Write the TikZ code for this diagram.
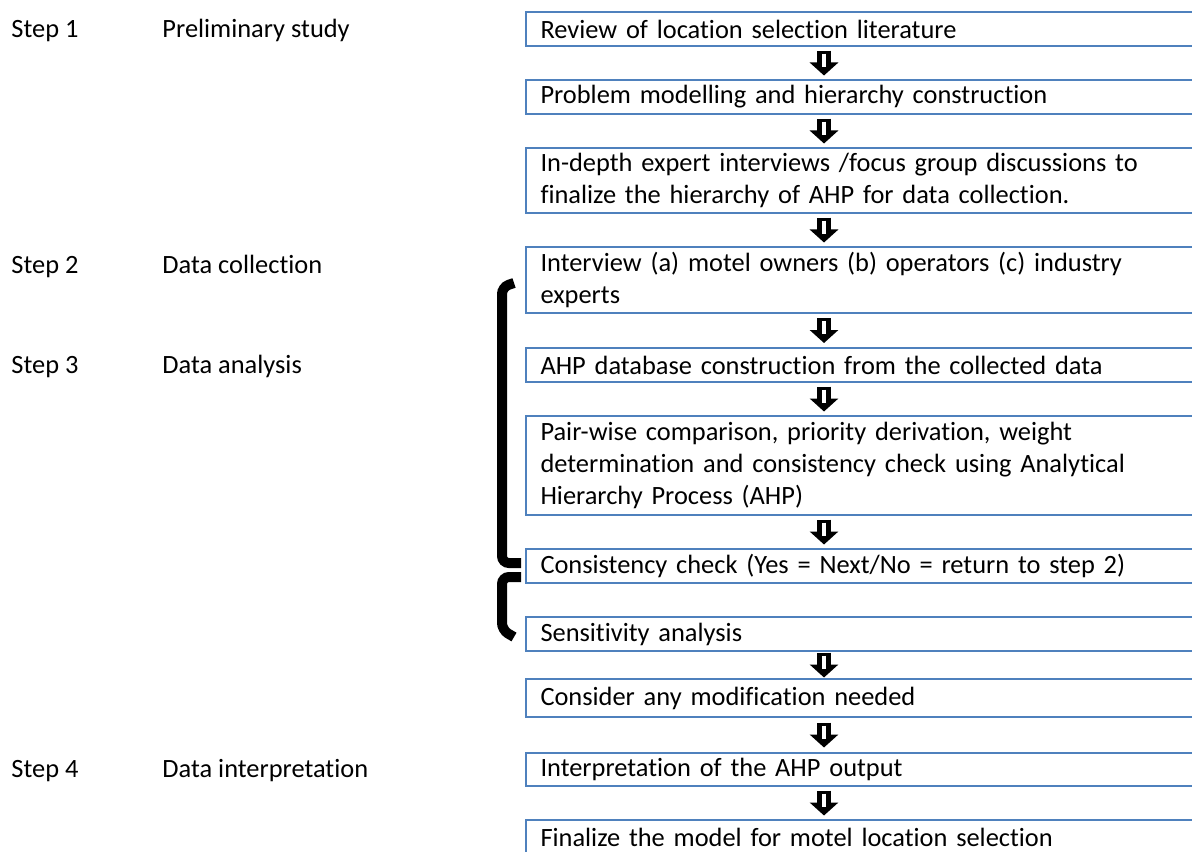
\documentclass[tikz,border=0pt]{standalone}
\usepackage{fontspec}
\setmainfont{Carlito}[RawFeature={-liga;-clig;-calt;-dlig}]
\usetikzlibrary{arrows.meta,calc}

\newdimen\pxl \pxl=0.4167pt
\definecolor{boxblue}{HTML}{4F81BD}

\tikzset{
  stepbox/.style={draw=boxblue, line width=2\pxl, anchor=west, align=left,
    text width=700\pxl, inner xsep=15\pxl, inner ysep=0pt,
    font=\fontsize{11}{13.2}\selectfont},
  steplabel/.style={anchor=base west, inner sep=0pt,
    font=\fontsize{11}{13.2}\selectfont},
  arrowbody/.style={draw=black, line width=14\pxl,
    -{Triangle[width=11.67pt,length=5.42pt]}},
  arrowslit/.style={draw=white, line width=3.5\pxl},
  bracket/.style={draw=black, line width=10\pxl, rounded corners=7\pxl}
}

\begin{document}
\begin{tikzpicture}[x=0.4167pt,y=-0.4167pt]
\clip (0,0) rectangle (1192,851);
%\draw[color=gray!20] (0,0) grid[step=50] (1192,851);

% left column
\node[steplabel] (step1) at (11,37) {Step 1};
\node[steplabel] (stage1) at (162,37) {Preliminary study};
\node[steplabel] (step2) at (11,273) {Step 2};
\node[steplabel] (stage2) at (162,273) {Data collection};
\node[steplabel] (step3) at (11,373) {Step 3};
\node[steplabel] (stage3) at (162,373) {Data analysis};
\node[steplabel] (step4) at (11,777) {Step 4};
\node[steplabel] (stage4) at (162,777) {Data interpretation};

% boxes
\node[stepbox, minimum height=34\pxl] (review) at (524.5,29) {Review of location selection literature};
\node[stepbox, minimum height=34\pxl] (model) at (524.5,97) {Problem modelling and hierarchy construction};
\node[stepbox, minimum height=65\pxl] (expert) at (524.5,180.5) {In-depth expert interviews /focus group discussions to\\finalize the hierarchy of AHP for data collection.};
\node[stepbox, minimum height=66\pxl] (interview) at (524.5,280) {Interview (a) motel owners (b) operators (c) industry\\experts};
\node[stepbox, minimum height=34\pxl] (database) at (524.5,365) {AHP database construction from the collected data};
\node[stepbox, minimum height=99\pxl] (pairwise) at (524.5,465.5) {Pair-wise comparison, priority derivation, weight\\determination and consistency check using Analytical\\Hierarchy Process (AHP)};
\node[stepbox, minimum height=34\pxl] (consistency) at (524.5,566) {Consistency check (Yes = Next/No = return to step 2)};
\node[stepbox, minimum height=34\pxl] (sensitivity) at (524.5,634) {Sensitivity analysis};
\node[stepbox, minimum height=38\pxl] (modification) at (524.5,698) {Consider any modification needed};
\node[stepbox, minimum height=33\pxl] (interpret) at (524.5,769.5) {Interpretation of the AHP output};
\node[stepbox, minimum height=34\pxl] (finalize) at (524.5,837) {Finalize the model for motel location selection};

% block arrows
\coordinate (ax) at (824,0);
\foreach \a/\b in {review/model, model/expert, expert/interview,
  interview/database, database/pairwise, pairwise/consistency,
  sensitivity/modification, modification/interpret, interpret/finalize}{
  \coordinate (m) at ($(\a.south -| ax)!0.5!(\b.north -| ax)$);
  \draw[arrowbody] ($(m)+(0,-12.5)$) -- ($(m)+(0,12.5)$);
  \draw[arrowslit] ($(m)+(0,-9.5)$) -- ($(m)+(0,3.5)$);
}

% brackets
\draw[bracket] (514,283) -- (502,287) -- (502,563) -- (521,563);
\draw[bracket] (521,577) -- (502,577) -- (502,630) -- (514,637);
\end{tikzpicture}
\end{document}
